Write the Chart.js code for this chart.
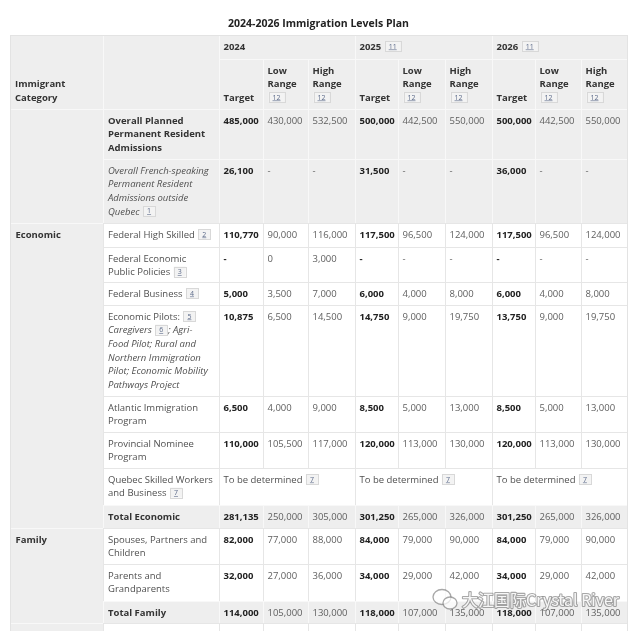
<!DOCTYPE html>
<html>
<head>
<meta charset="utf-8">
<script src="https://cdn.jsdelivr.net/npm/chart.js@4.4.1/dist/chart.umd.min.js"></script>
<style>
  html, body { margin: 0; padding: 0; background: #fff; }
  canvas { display: block; }
</style>
</head>
<body>
<canvas id="plan" width="640" height="631"></canvas>
<script>
/* ---------------- DATA ---------------- */
const title = "2024-2026 Immigration Levels Plan";
const years = ["2024", "2025", "2026"];
const yearRefs = ["", "11", "11"];
const measures = ["Target", "Low Range", "High Range"];
const measureRefs = ["", "12", "12"];
const groupHeader = ["Immigrant", "Category"];

// immigrant category of each row ("" = overall block / next block cut off)
const groups = ["", "", "Economic", "Economic", "Economic", "Economic", "Economic",
  "Economic", "Economic", "Economic", "Family", "Family", "Family", " "];

// program labels, one entry per line; "_" = italic line, {n} = footnote box
const programs = [
  ["Overall Planned", "Permanent Resident", "Admissions"],
  ["_Overall French-speaking", "_Permanent Resident", "_Admissions outside", "_Quebec {1}"],
  ["Federal High Skilled {2}"],
  ["Federal Economic", "Public Policies {3}"],
  ["Federal Business {4}"],
  ["Economic Pilots: {5}", "_Caregivers {6}; Agri-", "_Food Pilot; Rural and",
   "_Northern Immigration", "_Pilot; Economic Mobility", "_Pathways Project"],
  ["Atlantic Immigration", "Program"],
  ["Provincial Nominee", "Program"],
  ["Quebec Skilled Workers", "and Business {7}"],
  ["Total Economic"],
  ["Spouses, Partners and", "Children"],
  ["Parents and", "Grandparents"],
  ["Total Family"],
  [""]
];

const tbd = "tbd";
const tbdText = "To be determined {7}";
// null = "-"
const target2024 = [485000, 26100, 110770, null, 5000, 10875, 6500, 110000, tbd, 281135, 82000, 32000, 114000];
const low2024    = [430000, null, 90000, 0, 3500, 6500, 4000, 105500, tbd, 250000, 77000, 27000, 105000];
const high2024   = [532500, null, 116000, 3000, 7000, 14500, 9000, 117000, tbd, 305000, 88000, 36000, 130000];
const target2025 = [500000, 31500, 117500, null, 6000, 14750, 8500, 120000, tbd, 301250, 84000, 34000, 118000];
const low2025    = [442500, null, 96500, null, 4000, 9000, 5000, 113000, tbd, 265000, 79000, 29000, 107000];
const high2025   = [550000, null, 124000, null, 8000, 19750, 13000, 130000, tbd, 326000, 90000, 42000, 135000];
const target2026 = [500000, 36000, 117500, null, 6000, 13750, 8500, 120000, tbd, 301250, 84000, 34000, 118000];
const low2026    = [442500, null, 96500, null, 4000, 9000, 5000, 113000, tbd, 265000, 79000, 29000, 107000];
const high2026   = [550000, null, 124000, null, 8000, 19750, 13000, 130000, tbd, 326000, 90000, 42000, 135000];

const series = [
  [target2024, low2024, high2024],
  [target2025, low2025, high2025],
  [target2026, low2026, high2026]
];

/* ---------------- LAYOUT / STYLE ---------------- */
const layout = {
  left: 9.5, top: 35,
  colWidths: [93.5, 115.5, 44, 45.5, 47, 43, 46.5, 47, 43.5, 46, 46],
  headHeights: [24, 50],
  rowHeights: [50, 64, 24, 35, 23, 91, 36, 36, 37, 23, 36, 37, 22, 30],
  firstLine: 12, lineStep: 13.6, padX: 5, valPadX: 4.5
};
const rowShade = [1, 1, 0, 0, 0, 0, 0, 0, 0, 1, 0, 0, 1, 0];
const rowBold  = [1, 0, 0, 0, 0, 0, 0, 0, 0, 1, 0, 0, 1, 0];
const FS = 9.5;
const FONT = '"Open Sans", "DejaVu Sans", sans-serif';
const GRAY = "#eeeeee";
const WHITE = "#ffffff";

/* ---------------- DRAW HELPERS ---------------- */
function drawBadge(ctx, x, y, ref) {
  ctx.font = `7px ${FONT}`;
  const tw = ctx.measureText(ref).width;
  const w = tw + 8;
  ctx.fillStyle = "#f3f3f3";
  ctx.fillRect(x + 1, y - 6, w, 10);
  ctx.strokeStyle = "#d8d8d8";
  ctx.lineWidth = 1;
  ctx.strokeRect(Math.round(x + 1) + 0.5, Math.round(y - 6) + 0.5, Math.round(w), 10);
  ctx.fillStyle = "#5d6b8a";
  ctx.textAlign = "center";
  ctx.fillText(ref, x + 1 + w / 2, y - 0.5);
  ctx.fillRect(x + 1 + w / 2 - tw / 2, y + 2.5, tw, 0.6);
  ctx.textAlign = "left";
  return w + 2;
}

function drawLine(ctx, x, y, line, weight, color) {
  let italic = false;
  if (line.startsWith("_")) { italic = true; line = line.slice(1); }
  const font = `${italic ? "italic " : ""}${weight} ${FS}px ${FONT}`;
  let cx = x;
  line.split(/(\{\d+\})/).forEach(p => {
    if (!p) return;
    const m = p.match(/^\{(\d+)\}$/);
    if (m) {
      cx += drawBadge(ctx, cx, y, m[1]);
    } else {
      ctx.font = font;
      ctx.fillStyle = color;
      ctx.textBaseline = "middle";
      ctx.fillText(p, cx, y);
      cx += ctx.measureText(p).width;
    }
  });
}

/* ---------------- TABLE PLUGIN ---------------- */
const tablePlugin = {
  id: "levelsTable",
  afterDraw(chart) {
    const ctx = chart.ctx;
    const sx = chart.scales.x, sy = chart.scales.y;

    const colV = [layout.left];
    layout.colWidths.forEach(w => colV.push(colV[colV.length - 1] + w));
    const rowV = [layout.top];
    layout.headHeights.concat(layout.rowHeights).forEach(h => rowV.push(rowV[rowV.length - 1] + h));

    const X = i => Math.round(sx.getPixelForValue(colV[i]));
    const Y = i => Math.round(sy.getPixelForValue(rowV[i]));
    const line = k => sy.getPixelForValue(layout.firstLine + layout.lineStep * k) - sy.getPixelForValue(0);

    ctx.save();
    ctx.textBaseline = "middle";

    function cell(c0, c1, r0, r1, bg) {
      const x0 = X(c0), x1 = X(c1), y0 = Y(r0), y1 = Y(r1);
      ctx.fillStyle = bg;
      ctx.fillRect(x0, y0, x1 - x0, y1 - y0);
      ctx.strokeStyle = bg === GRAY ? "#f8f8f8" : "#e6e6e6";
      ctx.lineWidth = 1;
      ctx.strokeRect(x0 + 0.5, y0 + 0.5, x1 - x0, y1 - y0);
    }

    // header cells
    cell(0, 1, 0, 2, GRAY);
    cell(1, 2, 0, 2, GRAY);
    years.forEach((yr, k) => {
      cell(2 + 3 * k, 5 + 3 * k, 0, 1, GRAY);
      measures.forEach((m, j) => cell(2 + 3 * k + j, 3 + 3 * k + j, 1, 2, GRAY));
    });

    // group cells
    let start = 0;
    groups.forEach((g, i) => {
      if (i === groups.length - 1 || groups[i + 1] !== g) {
        cell(0, 1, 2 + start, 3 + i, GRAY);
        start = i + 1;
      }
    });

    // program + value cells
    programs.forEach((p, i) => {
      const bg = rowShade[i] ? GRAY : WHITE;
      cell(1, 2, 2 + i, 3 + i, bg);
      series.forEach((yearSeries, k) => {
        if (yearSeries[0][i] === tbd) {
          cell(2 + 3 * k, 5 + 3 * k, 2 + i, 3 + i, bg);
        } else {
          yearSeries.forEach((s, j) => cell(2 + 3 * k + j, 3 + 3 * k + j, 2 + i, 3 + i, bg));
        }
      });
    });

    // outer border
    ctx.strokeStyle = "#e3e3e3";
    ctx.strokeRect(X(0) + 0.5, Y(0) + 0.5, X(colV.length - 1) - X(0), Y(rowV.length - 1) - Y(0));

    // title
    ctx.font = `bold 10.5px ${FONT}`;
    ctx.fillStyle = "#222";
    ctx.textAlign = "center";
    ctx.fillText(title, (X(0) + X(colV.length - 1)) / 2, sy.getPixelForValue(24.5));
    ctx.textAlign = "left";

    // header text (bottom aligned in the measure row)
    const head = "#333";
    const bottomLine = n => Y(2) - line(0) + 1 - (line(n) - line(0));
    groupHeader.forEach((t, n) => {
      drawLine(ctx, X(0) + layout.padX, bottomLine(groupHeader.length - 1 - n), t, 700, head);
    });
    years.forEach((yr, k) => {
      drawLine(ctx, X(2 + 3 * k) + layout.valPadX, Y(0) + line(0), yr + (yearRefs[k] ? " {" + yearRefs[k] + "}" : ""), 700, head);
      measures.forEach((m, j) => {
        const lines = m.split(" ");
        if (measureRefs[j]) lines.push("{" + measureRefs[j] + "}");
        lines.forEach((t, n) => {
          drawLine(ctx, X(2 + 3 * k + j) + layout.valPadX, bottomLine(lines.length - 1 - n), t, 700, head);
        });
      });
    });

    // group labels
    groups.forEach((g, i) => {
      if ((i === 0 || groups[i - 1] !== g) && g.trim()) {
        drawLine(ctx, X(0) + layout.padX + 0.5, Y(2 + i) + line(0), g, 700, "#333");
      }
    });

    // program labels and values
    programs.forEach((p, i) => {
      const top = Y(2 + i);
      p.forEach((t, n) => {
        if (t) drawLine(ctx, X(1) + layout.padX, top + line(n), t,
          rowBold[i] ? 700 : 400, rowBold[i] ? "#333" : "#505050");
      });
      series.forEach((yearSeries, k) => {
        yearSeries.forEach((s, j) => {
          const v = s[i];
          if (v === undefined) return;
          if (v === tbd) {
            if (j === 0) drawLine(ctx, X(2 + 3 * k) + layout.valPadX, top + line(0), tbdText, 400, "#505050");
            return;
          }
          const txt = v === null ? "-" : v.toLocaleString("en-US");
          drawLine(ctx, X(2 + 3 * k + j) + layout.valPadX, top + line(0), txt,
            j === 0 ? 700 : 400, j === 0 ? "#222" : "#606060");
        });
      });
    });

    // watermark
    const wx = sx.getPixelForValue(434), wy = sy.getPixelForValue(600);
    ctx.strokeStyle = "rgba(110,110,110,0.6)";
    ctx.lineWidth = 1.3;
    ctx.fillStyle = "rgba(255,255,255,0.7)";
    ctx.beginPath();
    ctx.ellipse(wx + 8, wy - 3, 9, 7.5, 0, 0, Math.PI * 2);
    ctx.fill(); ctx.stroke();
    ctx.beginPath();
    ctx.ellipse(wx + 16, wy + 3, 7, 6, 0, 0, Math.PI * 2);
    ctx.fill(); ctx.stroke();
    ctx.font = `16px "Noto Sans CJK SC", ${FONT}`;
    ctx.lineWidth = 2.2;
    ctx.lineJoin = "round";
    ctx.strokeText("大江国际Crystal River", wx + 28, wy);
    ctx.fillStyle = "rgba(255,255,255,0.9)";
    ctx.fillText("大江国际Crystal River", wx + 28, wy);

    ctx.restore();
  }
};

/* ---------------- CHART ---------------- */
new Chart(document.getElementById("plan"), {
  type: "scatter",
  data: { datasets: [] },
  options: {
    responsive: false,
    animation: false,
    devicePixelRatio: 1,
    layout: { padding: 0 },
    plugins: { legend: { display: false }, tooltip: { enabled: false } },
    scales: {
      x: { type: "linear", min: 0, max: 640, display: false },
      y: { type: "linear", min: 0, max: 631, reverse: true, display: false }
    }
  },
  plugins: [tablePlugin]
});
</script>
</body>
</html>
